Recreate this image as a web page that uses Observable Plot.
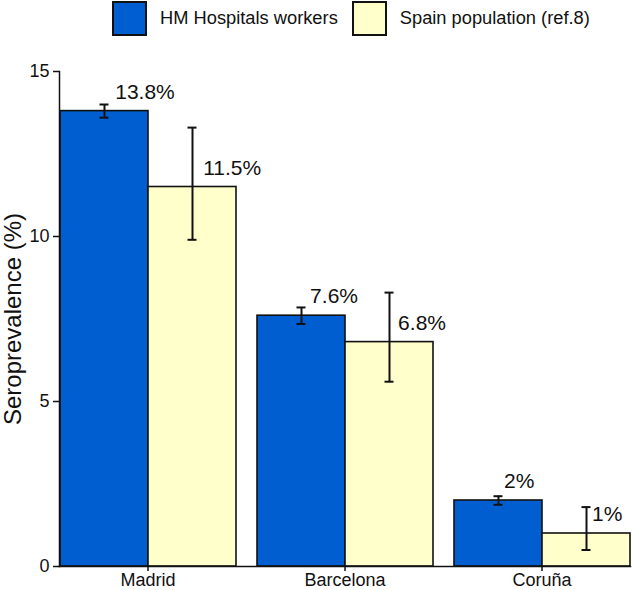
<!DOCTYPE html>
<html>
<head>
<meta charset="utf-8">
<script src="https://cdn.jsdelivr.net/npm/d3@7"></script>
<script src="https://cdn.jsdelivr.net/npm/@observablehq/plot@0.6"></script>
<style>
  html, body { margin: 0; padding: 0; background: white; }
  body { width: 633px; height: 590px; overflow: hidden; font-family: "Liberation Sans", Arial, sans-serif; }
  #legend { height: 45px; display: flex; align-items: flex-start; padding-left: 112px; box-sizing: border-box; }
  .key { display: flex; align-items: center; height: 36px; font-size: 18.3px; color: #111; }
  .sw { width: 35px; height: 35px; box-sizing: border-box; border: 2px solid #111; margin-right: 13px; }
  .key + .key { margin-left: 14px; }
</style>
</head>
<body>
<div id="legend"></div>
<div id="chart"></div>
<script>
const cities = ["Madrid", "Barcelona", "Coruña"];
const groups = ["HM Hospitals workers", "Spain population (ref.8)"];
const colors = ["#005ED1", "#FFFFCC"];

const hmValues = [13.8, 7.6, 2.0];
const hmLow = [13.6, 7.35, 1.87];
const hmHigh = [14.0, 7.85, 2.13];
const hmLabels = ["13.8%", "7.6%", "2%"];

const spainValues = [11.5, 6.8, 1.0];
const spainLow = [9.9, 5.6, 0.5];
const spainHigh = [13.3, 8.3, 1.8];
const spainLabels = ["11.5%", "6.8%", "1%"];

const yTicks = [0, 5, 10, 15];
const yTitle = "Seroprevalence (%)";

const rows = [];
cities.forEach((c, i) => {
  rows.push({city: c, group: groups[0], value: hmValues[i], lo: hmLow[i], hi: hmHigh[i], label: hmLabels[i]});
  rows.push({city: c, group: groups[1], value: spainValues[i], lo: spainLow[i], hi: spainHigh[i], label: spainLabels[i]});
});

// legend
const legend = document.getElementById("legend");
groups.forEach((g, i) => {
  const k = document.createElement("div");
  k.className = "key";
  const s = document.createElement("div");
  s.className = "sw";
  s.style.background = colors[i];
  k.appendChild(s);
  k.appendChild(document.createTextNode(g));
  legend.appendChild(k);
});

// approximate Arial advance widths (em) for label offset (ggplot hjust < 0)
const cw = {"0":.556,"1":.556,"2":.556,"3":.556,"4":.556,"5":.556,"6":.556,"7":.556,"8":.556,"9":.556,".":.278,"%":.889};
const labelSize = 21;
const textWidth = s => [...s].reduce((a, ch) => a + (cw[ch] || .556), 0) * labelSize;

const labelMarks = rows.map(r => Plot.text([r], {
  fx: "city", x: "group", y: "value", text: "label",
  textAnchor: "start", lineAnchor: "middle",
  dy: -19, dx: 0.18 * textWidth(r.label),
  fontSize: labelSize, fill: "#111"
}));

const chart = Plot.plot({
  width: 633,
  height: 545,
  marginLeft: 58,
  marginRight: 1,
  marginTop: 26,
  marginBottom: 24,
  style: {fontFamily: "Liberation Sans, Arial, sans-serif", fontSize: "18px", color: "#111", background: "white", overflow: "visible"},
  fx: {domain: cities, paddingInner: 0.1, paddingOuter: 0, label: null, axis: null},
  x: {domain: groups, padding: 0, axis: null},
  y: {domain: [0, 15], axis: null},
  color: {domain: groups, range: colors},
  marks: [
    Plot.barY(rows, {fx: "city", x: "group", y: "value", fill: "group", stroke: "#111", strokeWidth: 1.6}),
    Plot.ruleX(rows, {fx: "city", x: "group", y1: "lo", y2: "hi", stroke: "#111", strokeWidth: 2}),
    Plot.tickY(rows, {fx: "city", x: "group", y: "lo", stroke: "#111", strokeWidth: 2, insetLeft: 39.5, insetRight: 39.5}),
    Plot.tickY(rows, {fx: "city", x: "group", y: "hi", stroke: "#111", strokeWidth: 2, insetLeft: 39.5, insetRight: 39.5}),
    ...labelMarks,
    Plot.axisY({ticks: yTicks, tickSize: 6, tickPadding: 4, label: null, fontSize: 18, strokeWidth: 1.5}),
    Plot.frame({anchor: "left", facetAnchor: "left", stroke: "#111", strokeWidth: 1.5}),
    Plot.frame({anchor: "bottom", facet: "super", stroke: "#111", strokeWidth: 1.5}),
    Plot.axisFx({anchor: "bottom", tickSize: 5, tickPadding: 2, label: null, fontSize: 18, strokeWidth: 1.5}),
    Plot.text([yTitle], {facet: "super", frameAnchor: "left", textAnchor: "middle", rotate: -90, dx: -46, fontSize: 24, fill: "#111", text: d => d})
  ]
});
document.getElementById("chart").appendChild(chart);
</script>
</body>
</html>
